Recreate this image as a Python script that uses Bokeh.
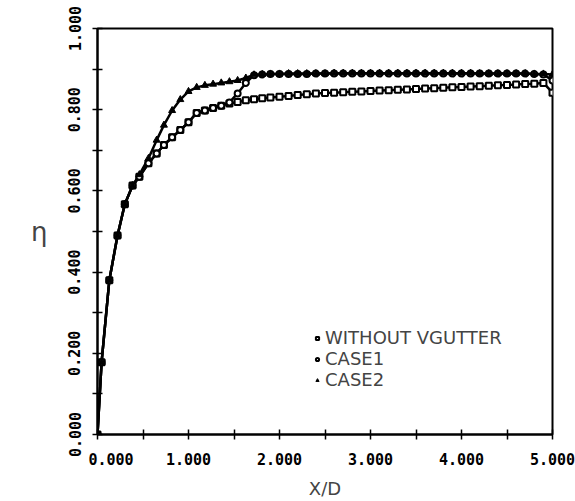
from bokeh.plotting import figure
from bokeh.models import FixedTicker, Legend, LegendItem, NumeralTickFormatter, Range1d
from bokeh.embed import file_html
from bokeh.resources import INLINE

# Station positions X/D shared by the three runs
x_d = [0.0, 0.045, 0.13, 0.22, 0.30, 0.385, 0.46, 0.56, 0.65, 0.73, 0.82, 0.91,
       1.00, 1.09, 1.18, 1.27, 1.36, 1.45, 1.54, 1.63, 1.72, 1.81, 1.90,
       2.0, 2.1, 2.2, 2.3, 2.4, 2.5, 2.6, 2.7, 2.8, 2.9,
       3.0, 3.1, 3.2, 3.3, 3.4, 3.5, 3.6, 3.7, 3.8, 3.9,
       4.0, 4.1, 4.2, 4.3, 4.4, 4.5, 4.6, 4.7, 4.8, 4.9, 5.0]

eta_without = [0.0, 0.178, 0.380, 0.490, 0.567, 0.613, 0.635, 0.668, 0.692, 0.713, 0.732, 0.750,
               0.769, 0.792, 0.798, 0.804, 0.810, 0.815, 0.819, 0.823, 0.826, 0.828, 0.830,
               0.832, 0.834, 0.836, 0.838, 0.840, 0.841, 0.842, 0.843, 0.844, 0.845,
               0.846, 0.847, 0.848, 0.849, 0.850, 0.851, 0.852, 0.853, 0.854, 0.855,
               0.856, 0.857, 0.858, 0.859, 0.860, 0.861, 0.862, 0.863, 0.864, 0.866, 0.842]

eta_case1 = [0.0, 0.178, 0.380, 0.490, 0.567, 0.613, 0.635, 0.668, 0.692, 0.713, 0.732, 0.750,
             0.769, 0.792, 0.798, 0.804, 0.810, 0.818, 0.840, 0.866, 0.885, 0.887, 0.888,
             0.888, 0.888, 0.888, 0.888, 0.889, 0.889, 0.889, 0.889, 0.889, 0.889,
             0.889, 0.889, 0.889, 0.889, 0.889, 0.889, 0.889, 0.889, 0.889, 0.889,
             0.889, 0.889, 0.889, 0.889, 0.889, 0.889, 0.889, 0.889, 0.888, 0.887, 0.872]

eta_case2 = [0.0, 0.178, 0.380, 0.490, 0.567, 0.613, 0.640, 0.680, 0.725, 0.762, 0.798, 0.825,
             0.845, 0.855, 0.860, 0.863, 0.866, 0.869, 0.872, 0.878, 0.886, 0.887, 0.888,
             0.888, 0.889, 0.889, 0.889, 0.889, 0.889, 0.890, 0.890, 0.890, 0.890,
             0.890, 0.890, 0.890, 0.890, 0.890, 0.890, 0.890, 0.890, 0.890, 0.890,
             0.890, 0.890, 0.889, 0.889, 0.889, 0.889, 0.889, 0.889, 0.888, 0.888, 0.887]

series_labels = ["WITHOUT VGUTTER", "CASE1", "CASE2"]

x_major = [0.0, 1.0, 2.0, 3.0, 4.0, 5.0]
x_minor = [0.5, 1.5, 2.5, 3.5, 4.5]
y_major = [0.0, 0.2, 0.4, 0.6, 0.8, 1.0]
y_minor = [0.1, 0.3, 0.5, 0.7, 0.9]

TICK_FONT = "DejaVu Sans Mono"
NBSP = "\u00a0"

p = figure(width=575, height=501, output_backend="svg", toolbar_location=None,
           x_range=Range1d(0, 5), y_range=Range1d(0, 1),
           min_border_left=97, min_border_right=23, min_border_top=28, min_border_bottom=62)

p.xgrid.visible = False
p.ygrid.visible = False
p.outline_line_color = "black"
p.outline_line_width = 2
p.background_fill_color = "white"
p.border_fill_color = "white"

for ax in (p.xaxis[0], p.yaxis[0]):
    ax.axis_line_width = 2
    ax.axis_line_color = "black"
    ax.major_tick_in = 5
    ax.major_tick_out = 5
    ax.minor_tick_in = 5
    ax.minor_tick_out = 5
    ax.major_tick_line_width = 1.5
    ax.minor_tick_line_width = 1.5
    ax.major_label_text_font = TICK_FONT
    ax.major_label_text_font_style = "bold"
    ax.major_label_text_font_size = "15px"
    ax.major_label_text_color = "black"
    ax.formatter = NumeralTickFormatter(format="0.000")

p.xaxis.ticker = FixedTicker(ticks=x_major, minor_ticks=x_minor)
p.yaxis.ticker = FixedTicker(ticks=y_major, minor_ticks=y_minor)
p.yaxis.major_label_orientation = "vertical"
p.xaxis.major_label_standoff = 11
p.yaxis.major_label_standoff = 12
# nudge the origin label clear of the vertical axis labels
p.xaxis.major_label_overrides = {0: NBSP * 3 + "0.000"}

p.xaxis.axis_label = "X/D"
p.xaxis.axis_label_text_font = "DejaVu Sans"
p.xaxis.axis_label_text_font_style = "normal"
p.xaxis.axis_label_text_font_size = "18px"
p.xaxis.axis_label_standoff = 6

p.yaxis.axis_label = "η"
p.yaxis.axis_label_text_font = "DejaVu Sans"
p.yaxis.axis_label_text_font_style = "normal"
p.yaxis.axis_label_text_font_size = "26px"
p.yaxis.axis_label_standoff = 18
p.yaxis.axis_label_orientation = "horizontal"

# Curves
line_kw = dict(line_color="black", line_width=2.5)
p.line(x_d, eta_without, **line_kw)
p.line(x_d, eta_case1, **line_kw)
p.line(x_d, eta_case2, **line_kw)

r_sq = p.scatter(x_d, eta_without, marker="square", size=6, line_color="black",
                 fill_color="white", line_width=2)
r_ci = p.scatter(x_d, eta_case1, marker="circle", size=6, line_color="black",
                 fill_color="white", line_width=2)
r_tr = p.scatter(x_d, eta_case2, marker="triangle", size=7, line_color="black",
                 fill_color="black", line_width=1)

legend = Legend(items=[LegendItem(label=series_labels[0], renderers=[r_sq]),
                       LegendItem(label=series_labels[1], renderers=[r_ci]),
                       LegendItem(label=series_labels[2], renderers=[r_tr])],
                location=(216, 44), border_line_color=None, background_fill_alpha=0,
                label_text_font="DejaVu Sans", label_text_font_size="18px",
                glyph_width=8, glyph_height=16, label_standoff=4, spacing=0,
                padding=0, margin=0, label_height=16)
p.add_layout(legend)

open("out.html", "w").write(file_html(p, INLINE))
